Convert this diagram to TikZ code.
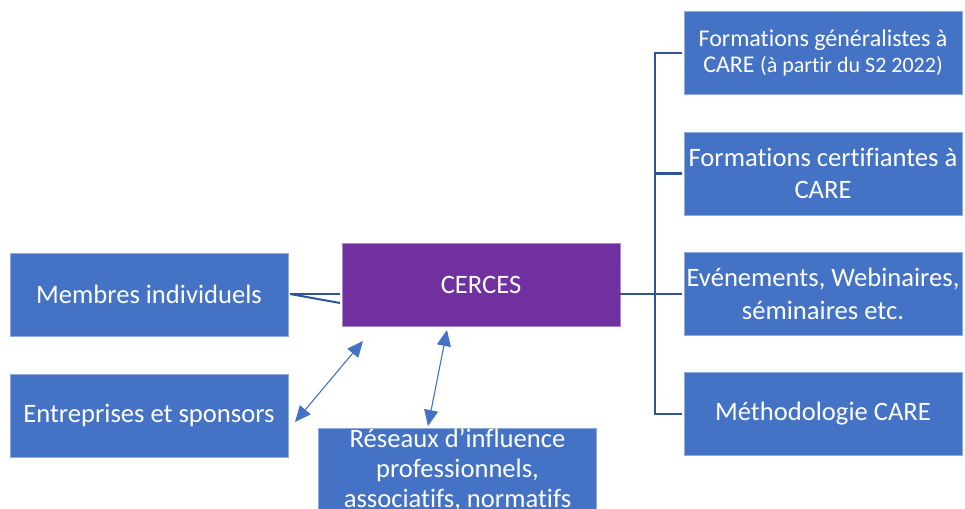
\documentclass[tikz,border=0pt]{standalone}
\usepackage{fontspec}
\setmainfont{Carlito}[Ligatures=NoCommon]
\usetikzlibrary{arrows.meta}
\definecolor{boxblue}{HTML}{4472C4}
\definecolor{boxedge}{HTML}{8FAADC}
\definecolor{cpurple}{HTML}{7030A0}
\definecolor{cedge}{HTML}{A98BC8}
\definecolor{treeblue}{HTML}{2F5597}
\definecolor{arrowblue}{HTML}{4472C4}
\begin{document}
\begin{tikzpicture}[x=1pt,y=-1pt,
  bluebox/.style={rectangle, fill=boxblue, draw=boxedge, line width=0.8pt,
    minimum width=278pt, minimum height=83pt, inner sep=2pt, text=white,
    align=center, font=\fontsize{26.6}{32.5}\selectfont},
  purplebox/.style={bluebox, fill=cpurple, draw=cedge},
  treeline/.style={draw=treeblue, line width=2.4pt},
  link/.style={draw=arrowblue, line width=1.1pt,
    {Triangle[length=16pt,width=14pt]}-{Triangle[length=16pt,width=14pt]}}]
\clip (0,0) rectangle (965,508);
\fill[white] (0,0) rectangle (965,508);

% right column
\node[bluebox, font=\fontsize{24}{25.5}\selectfont] (f1) at (823,53)
  {Formations généralistes à\\CARE {\fontsize{22}{25}\selectfont (à partir du S2 2022)}};
\node[bluebox] (f2) at (823,173.5) {Formations certifiantes à\\CARE};
\node[bluebox] (f3) at (823,294) {Evénements, Webinaires,\\séminaires etc.};
\node[bluebox] (f4) at (823,414) {Méthodologie CARE};

% centre
\node[purplebox] (cerces) at (481,284.5) {CERCES};

% left column
\node[bluebox] (membres) at (149,294.5) {Membres individuels};
\node[bluebox] (entr) at (149,415.5) {Entreprises et sponsors};

% bottom
\node[bluebox] (res) at (457.5,469.5) {};
\node[text=white, align=center, font=\fontsize{26.6}{30}\selectfont, inner sep=0pt]
  (restext) at (457.5,470) {Réseaux d\symbol{39}influence\\professionnels,\\associatifs, normatifs};

% tree connectors
\coordinate (cstart) at (cerces.east |- f3.west);
\coordinate (trunk) at (655,294);
\draw[treeline] (cstart) -- (trunk);
\draw[treeline, shorten >=2pt] (trunk) |- (f1.west);
\draw[treeline, shorten >=2pt] (trunk) |- (f2.west);
\draw[treeline, shorten >=2pt] (trunk) -- (f3.west);
\draw[treeline, shorten >=2pt] (trunk) |- (f4.west);

% membres connectors
\coordinate (ms) at (290,294);
\coordinate (me1) at (340,294);
\coordinate (me2) at (340,303);
\draw[treeline] (ms) -- (me1);
\draw[treeline, line width=2pt] (ms) -- (me2);

% double arrows
\coordinate (a1s) at (295,422);
\coordinate (a1e) at (363,341);
\coordinate (a2s) at (428,426);
\coordinate (a2e) at (447,330);
\draw[link] (a1s) -- (a1e);
\draw[link] (a2s) -- (a2e);
\end{tikzpicture}
\end{document}
